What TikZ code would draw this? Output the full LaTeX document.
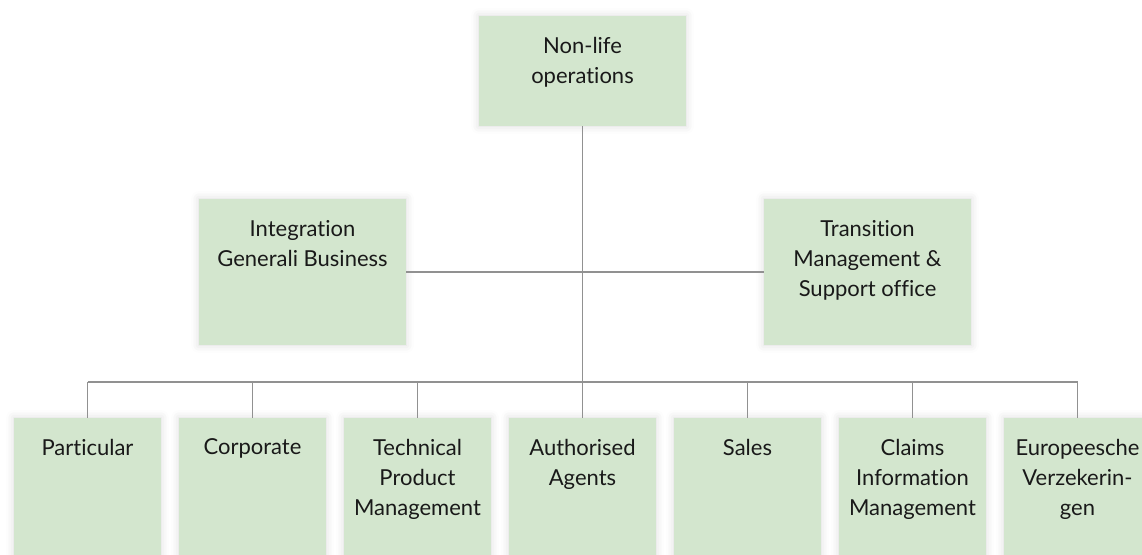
\documentclass[tikz,border=0pt]{standalone}
\usepackage{fontspec}
\setmainfont{Lato}[Ligatures=NoCommon]
\usetikzlibrary{shadows.blur}

\definecolor{boxgreen}{RGB}{211,230,206}
\definecolor{linegray}{RGB}{145,145,145}
\definecolor{txtdark}{RGB}{25,25,25}

\tikzset{
  box/.style={fill=boxgreen, inner sep=0pt,
    blur shadow={shadow xshift=0pt, shadow yshift=0pt, shadow blur radius=6pt, shadow opacity=15},
    label={[boxtext]north:#1}},
  boxtext/.style={anchor=north, inner sep=0pt, yshift=-15.75pt,
    align=center, text=txtdark, font=\fontsize{16.5}{22.5}\selectfont},
  headbox/.style={box=#1, minimum width=155.25pt, minimum height=82.5pt},
  midbox/.style={box=#1, minimum width=155.25pt, minimum height=109.5pt},
  unitbox/.style={box=#1, minimum width=110.25pt, minimum height=112.5pt},
  conn/.style={draw=linegray, line width=1.1pt}
}

\begin{document}
\begin{tikzpicture}[x=0.75pt,y=0.75pt,yscale=-1,xscale=1]
\useasboundingbox (0,0) rectangle (1142,555);

%Shape: top box
\node [headbox={Non-life\\operations}] (nonlife) at (582.5,71) {};

%Shape: staff boxes
\node [midbox={Integration\\Generali Business}] (integr) at (302.5,272) {};
\node [midbox={Transition\\Management \&\\Support office}] (transit) at (867.5,272) {};

%Shape: departments
\node [unitbox={Particular}] (dep1) at (87.5,493) {};
\node [unitbox={Corporate}] (dep2) at (252.5,493) {};
\node [unitbox={Technical\\Product\\Management}] (dep3) at (417.5,493) {};
\node [unitbox={Authorised\\Agents}] (dep4) at (582.5,493) {};
\node [unitbox={Sales}] (dep5) at (747.5,493) {};
\node [unitbox={Claims\\Information\\Management}] (dep6) at (912.5,493) {};
\node [unitbox={Europeesche\\Verzekerin-\\gen}] (dep7) at (1077.5,493) {};

%Straight Lines
\coordinate (bus) at (582.5,382);
\draw [conn] (nonlife.south) -- (dep4.north);
\draw [conn] (integr.east) -- (transit.west);
\draw [conn] (dep1.north |- bus) -- (dep7.north |- bus);
\foreach \i in {1,...,7}
  \draw [conn] (dep\i.north) -- (dep\i.north |- bus);

\end{tikzpicture}
\end{document}
